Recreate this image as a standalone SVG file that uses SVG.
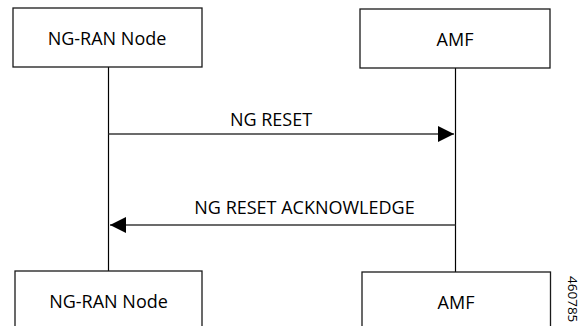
<svg xmlns="http://www.w3.org/2000/svg" width="581" height="326" viewBox="0 0 581 326">
  <defs>
    <style>
      .box { fill: #ffffff; stroke: #1a1a1a; stroke-width: 1.3; }
      .lbl { font-family: "Open Sans", "Liberation Sans", sans-serif; font-size: 18px; fill: #000000; text-anchor: middle; }
      .life { stroke: #000000; stroke-width: 1.2; fill: none; }
      .msg { stroke: #3a3a3a; stroke-width: 1.6; fill: none; }
      .fig { font-family: "Open Sans", "Liberation Sans", sans-serif; font-size: 13.5px; fill: #000000; }
    </style>
    <marker id="arrow" markerUnits="userSpaceOnUse" markerWidth="16" markerHeight="16" viewBox="0 0 15 15" refX="15" refY="7.5" orient="auto">
      <path d="M0,0 L15,7.5 L0,15 Z" fill="#000000"/>
    </marker>
  </defs>

  <g id="connectors">
    <line class="life" x1="108.5" y1="67" x2="108.5" y2="271"/>
    <line class="life" x1="455.5" y1="68" x2="455.5" y2="272"/>
    <line class="msg" x1="108.5" y1="134" x2="454" y2="134" marker-end="url(#arrow)"/>
    <line class="msg" x1="455.5" y1="225" x2="110" y2="225" marker-end="url(#arrow)"/>
  </g>

  <g id="ngran-top">
    <rect class="box" x="13" y="8" width="189" height="59"/>
    <text class="lbl" x="107" y="45">NG-RAN Node</text>
  </g>

  <g id="amf-top">
    <rect class="box" x="360" y="9" width="190" height="59"/>
    <text class="lbl" x="455" y="46">AMF</text>
  </g>

  <g id="ngran-bottom">
    <rect class="box" x="15" y="271" width="187" height="70"/>
    <text class="lbl" x="108.5" y="308">NG-RAN Node</text>
  </g>

  <g id="amf-bottom">
    <rect class="box" x="362" y="272" width="188.5" height="70"/>
    <text class="lbl" x="456" y="309">AMF</text>
  </g>

  <g id="labels">
    <text class="lbl" x="271" y="126">NG RESET</text>
    <text class="lbl" x="304.5" y="214">NG RESET ACKNOWLEDGE</text>
    <text class="fig" transform="translate(568,276) rotate(90)">460785</text>
  </g>
</svg>
